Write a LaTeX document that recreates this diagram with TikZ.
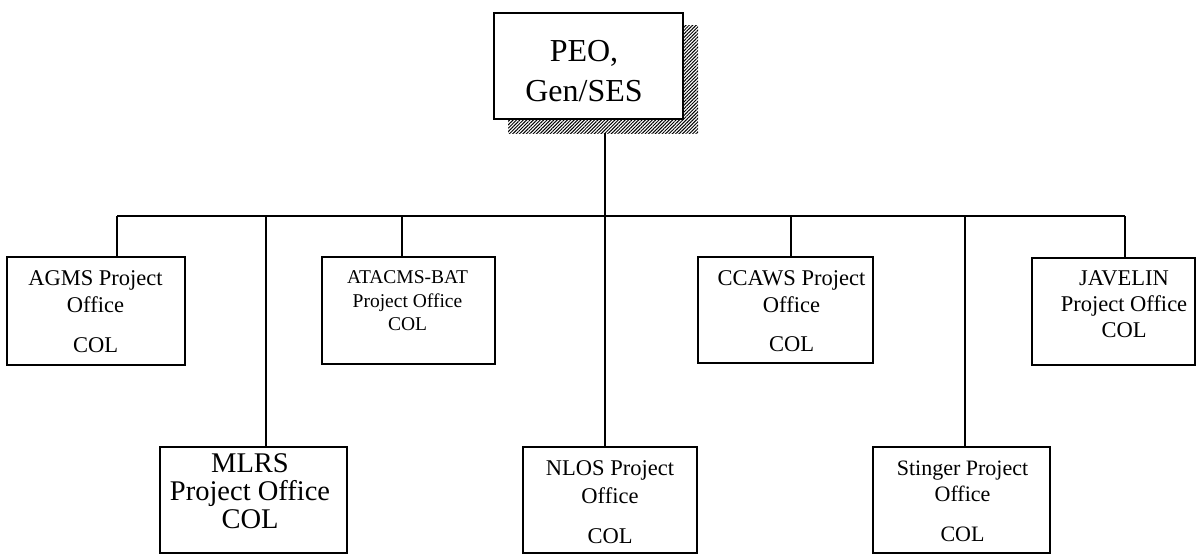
\documentclass[tikz,border=0pt]{standalone}
\usepackage{fontspec}
\setmainfont{Liberation Serif}
\usetikzlibrary{patterns.meta}
\begin{document}
\begin{tikzpicture}[x=1pt,y=-1pt,
  orgbox/.style={draw, line width=2pt, inner sep=0pt, outer sep=0pt, fill=white},
  shadowbox/.style={inner sep=0pt, outer sep=0pt, preaction={fill=white},
    pattern={Lines[angle=45,distance=2.4pt,line width=1pt]}},
  lbl/.style={align=center, anchor=north, inner sep=0pt, outer sep=0pt},
  conn/.style={line width=2pt}]
\useasboundingbox (0,0) rectangle (1197,555);

% boxes
\node[shadowbox, minimum width=190, minimum height=108] (peoshadow) at (603,79) {};
\node[orgbox, minimum width=189, minimum height=106] (peo) at (588.5,66) {};
\node[orgbox, minimum width=178, minimum height=108] (agms) at (96,311) {};
\node[orgbox, minimum width=173, minimum height=107] (atacms) at (408.5,310.5) {};
\node[orgbox, minimum width=175, minimum height=106] (ccaws) at (785.5,310) {};
\node[orgbox, minimum width=163, minimum height=107] (javelin) at (1113.5,311.5) {};
\node[orgbox, minimum width=187, minimum height=106] (mlrs) at (253.5,500) {};
\node[orgbox, minimum width=174, minimum height=106] (nlos) at (610,500) {};
\node[orgbox, minimum width=177, minimum height=106] (stinger) at (961.5,500) {};

% labels
\node[lbl, font=\fontsize{32}{40}\selectfont] (peoT) at (584,40) {PEO,\\Gen/SES};
\node[lbl, font=\fontsize{22.5}{27}\selectfont] (agmsT) at (95.5,271) {AGMS Project\\Office\\[13pt]COL};
\node[lbl, font=\fontsize{19.5}{23.5}\selectfont] (atacmsT) at (407.5,271) {ATACMS-BAT\\Project Office\\COL};
\node[lbl, font=\fontsize{22.5}{26.5}\selectfont] (ccawsT) at (791.5,271) {CCAWS Project\\Office\\[13pt]COL};
\node[lbl, font=\fontsize{22.5}{26}\selectfont] (javelinT) at (1124,271) {JAVELIN\\Project Office\\COL};
\node[lbl, font=\fontsize{28.5}{28}\selectfont] (mlrsT) at (250,454) {MLRS\\Project Office\\COL};
\node[lbl, font=\fontsize{22.5}{28}\selectfont] (nlosT) at (610,461) {NLOS Project\\Office\\[12pt]COL};
\node[lbl, font=\fontsize{22}{26}\selectfont] (stingerT) at (962.5,461) {Stinger Project\\Office\\[14pt]COL};

% connectors
\coordinate (bL) at (117,216);
\coordinate (bR) at (1125,216);
\coordinate (bMlrs) at (266,216);
\coordinate (bAtacms) at (402,216);
\coordinate (bC) at (605,216);
\coordinate (bCcaws) at (791,216);
\coordinate (bStinger) at (965,216);
\draw[conn] (bL) -- (bR);
\draw[conn] (bC |- peoshadow.south) -- (bC |- nlos.north);
\draw[conn] (bL) -- (bL |- agms.north);
\draw[conn] (bMlrs) -- (bMlrs |- mlrs.north);
\draw[conn] (bAtacms) -- (bAtacms |- atacms.north);
\draw[conn] (bCcaws) -- (bCcaws |- ccaws.north);
\draw[conn] (bStinger) -- (bStinger |- stinger.north);
\draw[conn] (bR) -- (bR |- javelin.north);
\end{tikzpicture}
\end{document}
